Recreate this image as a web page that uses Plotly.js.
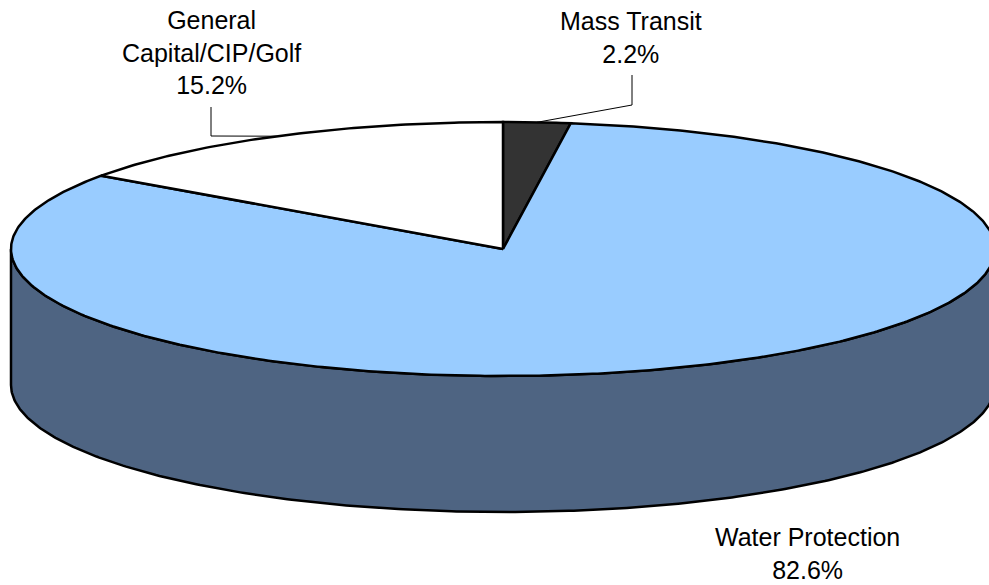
<!DOCTYPE html>
<html>
<head>
<meta charset="utf-8">
<script src="https://cdn.plot.ly/plotly-3.0.1.min.js"></script>
<style>
  html, body { margin: 0; padding: 0; background: #ffffff; }
  #chart { width: 989px; height: 585px; }
</style>
</head>
<body>
<div id="chart"></div>
<script>
// Revenue share by fund, drawn as a tilted (3-D style) pie.
const categories = ['Mass Transit', 'Water Protection', 'General<br>Capital/CIP/Golf'];
const shares = [2.2, 82.6, 15.2];
const topColors = ['#333333', '#99CCFF', '#FFFFFF'];
const sideColors = ['#1F1F1F', '#4E6482', '#9A9A9A'];

// Label placement: [x, y] of text centre, and leader elbow (null = no leader)
const labelPos = [[631, 37], [807, 553], [211, 52]];
const leaderStart = [[632, 75], null, [211, 107]];
const leaderElbow = [[632, 105], null, [211, 136]];

// Pie geometry in page pixels
const W = 989, H = 585;
const cx = 503, cy = 249, rx = 492, ry = 127, depth = 136;

function pt(theta, dy) {
  return [cx + rx * Math.sin(theta), cy - ry * Math.cos(theta) + (dy || 0)];
}
function arc(a0, a1, dy) {
  const n = Math.max(2, Math.ceil(Math.abs(a1 - a0) / 0.01));
  const xs = [], ys = [];
  for (let i = 0; i <= n; i++) {
    const p = pt(a0 + (a1 - a0) * i / n, dy);
    xs.push(p[0]); ys.push(p[1]);
  }
  return [xs, ys];
}

const total = shares.reduce((a, b) => a + b, 0);
const ranges = [];
let acc = 0;
shares.forEach(v => {
  const a0 = acc / total * 2 * Math.PI;
  acc += v;
  ranges.push([a0, acc / total * 2 * Math.PI]);
});

const traces = [];

// Front wall of the cylinder (only the part facing the viewer)
ranges.forEach((r, i) => {
  const s0 = Math.max(r[0], Math.PI / 2), s1 = Math.min(r[1], 3 * Math.PI / 2);
  if (s1 <= s0) return;
  const top = arc(s0, s1, 0), bot = arc(s1, s0, depth);
  traces.push({
    type: 'scatter', mode: 'lines', fill: 'toself',
    x: top[0].concat(bot[0], [top[0][0]]),
    y: top[1].concat(bot[1], [top[1][0]]),
    fillcolor: sideColors[i], line: { color: '#000000', width: 2.5 },
    hoverinfo: 'skip', showlegend: false
  });
});

// Top face slices
ranges.forEach((r, i) => {
  const a = arc(r[0], r[1], 0);
  traces.push({
    type: 'scatter', mode: 'lines', fill: 'toself',
    x: [cx].concat(a[0], [cx]),
    y: [cy].concat(a[1], [cy]),
    fillcolor: topColors[i], line: { color: '#000000', width: 2.5 },
    hoverinfo: 'skip', showlegend: false
  });
});

// Leader lines from labels to the middle of each slice's rim
ranges.forEach((r, i) => {
  if (!leaderStart[i]) return;
  const m = pt((r[0] + r[1]) / 2, 0);
  traces.push({
    type: 'scatter', mode: 'lines',
    x: [leaderStart[i][0], leaderElbow[i][0], m[0]],
    y: [leaderStart[i][1], leaderElbow[i][1], m[1]],
    line: { color: '#000000', width: 1 },
    hoverinfo: 'skip', showlegend: false
  });
});

const annotations = categories.map((c, i) => ({
  x: labelPos[i][0], y: labelPos[i][1], xref: 'x', yref: 'y',
  text: c + '<br>' + shares[i].toFixed(1) + '%',
  showarrow: false, xanchor: 'center', yanchor: 'middle', align: 'center',
  font: { family: 'Liberation Sans, Arial, sans-serif', size: 25, color: '#000000' }
}));

const layout = {
  width: W, height: H,
  margin: { l: 0, r: 0, t: 0, b: 0 },
  paper_bgcolor: '#ffffff', plot_bgcolor: '#ffffff',
  xaxis: { range: [0, W], visible: false, fixedrange: true },
  yaxis: { range: [H, 0], visible: false, fixedrange: true },
  showlegend: false, hovermode: false,
  annotations: annotations
};

Plotly.newPlot('chart', traces, layout, { staticPlot: true, displayModeBar: false });
</script>
</body>
</html>
